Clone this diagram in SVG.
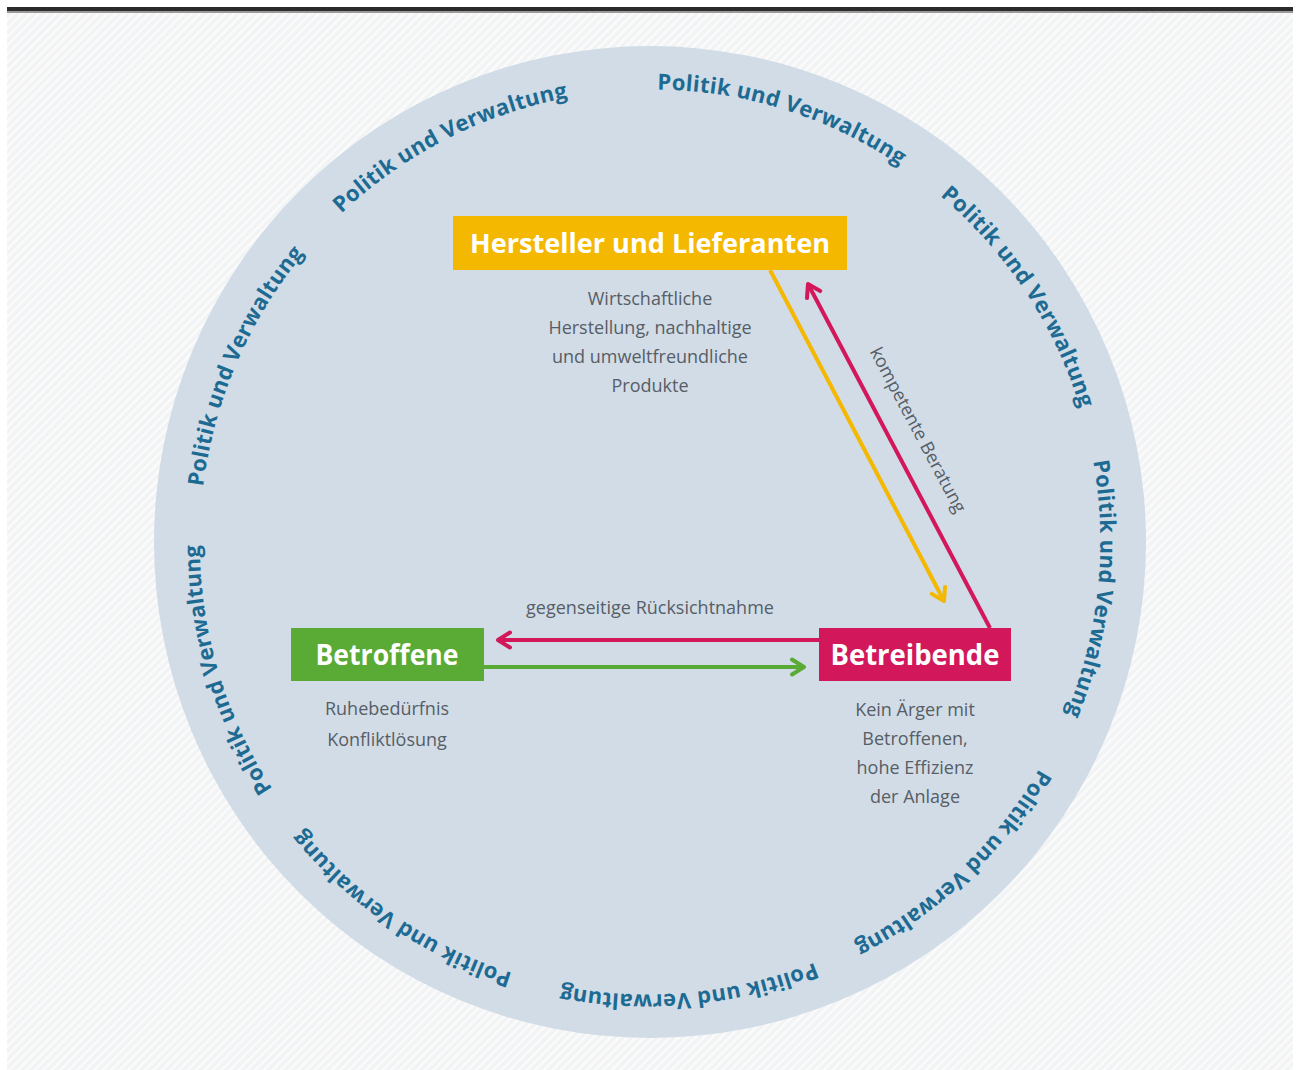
<svg xmlns="http://www.w3.org/2000/svg" width="1298" height="1070" viewBox="0 0 1298 1070">
  <defs>
    <pattern id="stripes" patternUnits="userSpaceOnUse" width="6" height="6" patternTransform="rotate(45)">
      <rect width="6" height="6" fill="#f2f3f4"/>
      <rect width="2.5" height="6" fill="#fbfbfb"/>
    </pattern>
    <path id="ring" d="M559.7,985.9 A453,453 0 0 1 740.3,98.1 A453,453 0 0 1 559.7,985.9"/>
    <marker id="arrY" viewBox="0 0 20 20" refX="15" refY="10" markerWidth="20" markerHeight="20" markerUnits="userSpaceOnUse" orient="auto">
      <path d="M3,2.5 L15,10 L3,17.5" fill="none" stroke="#f5b800" stroke-width="4" stroke-linecap="round" stroke-linejoin="round"/>
    </marker>
    <marker id="arrM" viewBox="0 0 20 20" refX="15" refY="10" markerWidth="20" markerHeight="20" markerUnits="userSpaceOnUse" orient="auto">
      <path d="M3,2.5 L15,10 L3,17.5" fill="none" stroke="#d2185a" stroke-width="4" stroke-linecap="round" stroke-linejoin="round"/>
    </marker>
    <marker id="arrG" viewBox="0 0 20 20" refX="15" refY="10" markerWidth="20" markerHeight="20" markerUnits="userSpaceOnUse" orient="auto">
      <path d="M3,2.5 L15,10 L3,17.5" fill="none" stroke="#5aab36" stroke-width="4" stroke-linecap="round" stroke-linejoin="round"/>
    </marker>
  </defs>
  <style>
    .ring { font-family: "Open Sans", "DejaVu Sans", sans-serif; font-weight: bold; font-size: 22px; fill: #1d6a92; }
    .title { font-family: "Open Sans", "DejaVu Sans", sans-serif; font-weight: bold; fill: #ffffff; text-anchor: middle; }
    .sub { font-family: "Open Sans", "DejaVu Sans", sans-serif; font-size: 18px; fill: #575e66; text-anchor: middle; }
    .conn { fill: none; stroke-width: 4; }
  </style>

  <rect x="0" y="0" width="1298" height="1070" fill="#ffffff"/>
  <rect x="7" y="11" width="1286" height="1059" fill="url(#stripes)"/>
  <rect x="7" y="7" width="1286" height="4" fill="#2b2b2b"/>
  <rect x="7" y="11" width="1286" height="2" fill="#9a9a9a"/>

  <circle id="ring-bg" cx="650" cy="542" r="496" fill="#d1dce6"/>

  <g id="politik-ring">
    <text class="ring"><textPath href="#ring" startOffset="178" text-anchor="middle" textLength="258" lengthAdjust="spacing">Politik und Verwaltung</textPath></text>
    <text class="ring"><textPath href="#ring" startOffset="486.2" text-anchor="middle" textLength="258" lengthAdjust="spacing">Politik und Verwaltung</textPath></text>
    <text class="ring"><textPath href="#ring" startOffset="802.5" text-anchor="middle" textLength="258" lengthAdjust="spacing">Politik und Verwaltung</textPath></text>
    <text class="ring"><textPath href="#ring" startOffset="1114.8" text-anchor="middle" textLength="258" lengthAdjust="spacing">Politik und Verwaltung</textPath></text>
    <text class="ring"><textPath href="#ring" startOffset="1462.7" text-anchor="middle" textLength="258" lengthAdjust="spacing">Politik und Verwaltung</textPath></text>
    <text class="ring"><textPath href="#ring" startOffset="1771.0" text-anchor="middle" textLength="258" lengthAdjust="spacing">Politik und Verwaltung</textPath></text>
    <text class="ring"><textPath href="#ring" startOffset="2083.3" text-anchor="middle" textLength="258" lengthAdjust="spacing">Politik und Verwaltung</textPath></text>
    <text class="ring"><textPath href="#ring" startOffset="2402" text-anchor="middle" textLength="258" lengthAdjust="spacing">Politik und Verwaltung</textPath></text>
    <text class="ring"><textPath href="#ring" startOffset="2704" text-anchor="middle" textLength="258" lengthAdjust="spacing">Politik und Verwaltung</textPath></text>
  </g>

  <g id="connectors">
    <line class="conn" x1="770" y1="270" x2="944" y2="601" stroke="#f5b800" marker-end="url(#arrY)"/>
    <line class="conn" x1="990" y1="628" x2="808" y2="284" stroke="#d2185a" marker-end="url(#arrM)"/>
    <line class="conn" x1="819" y1="640" x2="498" y2="640" stroke="#d2185a" marker-end="url(#arrM)"/>
    <line class="conn" x1="484" y1="667" x2="804" y2="667" stroke="#5aab36" marker-end="url(#arrG)"/>
    <text class="sub" x="650" y="614">gegenseitige Rücksichtnahme</text>
    <text class="sub" transform="translate(918,430) rotate(62)" x="0" y="6">kompetente Beratung</text>
  </g>

  <g id="hersteller">
    <rect x="453" y="216" width="394" height="54" fill="#f5b800"/>
    <text class="title" x="650" y="253" font-size="26" textLength="360" lengthAdjust="spacingAndGlyphs">Hersteller und Lieferanten</text>
    <text class="sub" x="650" y="305">Wirtschaftliche</text>
    <text class="sub" x="650" y="334">Herstellung, nachhaltige</text>
    <text class="sub" x="650" y="363">und umweltfreundliche</text>
    <text class="sub" x="650" y="392">Produkte</text>
  </g>

  <g id="betroffene">
    <rect x="291" y="628" width="193" height="53" fill="#5aab36"/>
    <text class="title" x="387" y="665" font-size="28" textLength="143" lengthAdjust="spacingAndGlyphs">Betroffene</text>
    <text class="sub" x="387" y="715">Ruhebedürfnis</text>
    <text class="sub" x="387" y="746">Konfliktlösung</text>
  </g>

  <g id="betreibende">
    <rect x="819" y="628" width="192" height="53" fill="#d2185a"/>
    <text class="title" x="915" y="665" font-size="28" textLength="169" lengthAdjust="spacingAndGlyphs">Betreibende</text>
    <text class="sub" x="915" y="716">Kein Ärger mit</text>
    <text class="sub" x="915" y="745">Betroffenen,</text>
    <text class="sub" x="915" y="774">hohe Effizienz</text>
    <text class="sub" x="915" y="803">der Anlage</text>
  </g>
</svg>
